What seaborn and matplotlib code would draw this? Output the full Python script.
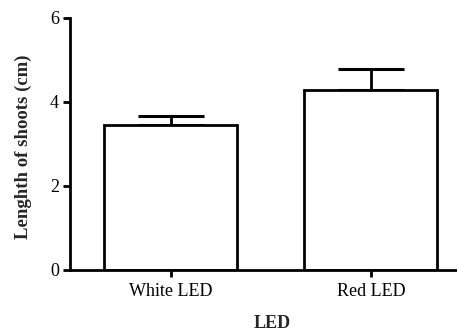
import matplotlib
matplotlib.use("Agg")
import matplotlib.pyplot as plt
import seaborn as sns
import pandas as pd

# Shoot length by light source (mean and SEM)
groups = ["White LED", "Red LED"]
means = [3.45, 4.29]
sems = [0.22, 0.50]

sns.set_style("ticks")
plt.rcParams["font.family"] = ["Liberation Serif", "DejaVu Serif"]

df = pd.DataFrame({"LED": groups, "length": means})

fig = plt.figure(figsize=(4.57, 3.33), dpi=100)
ax = fig.add_axes([70 / 457, 63 / 333, 387 / 457, 252 / 333])

sns.barplot(data=df, x="LED", y="length", color="white", edgecolor="black",
            linewidth=2, width=0.665, errorbar=None, ax=ax, zorder=2)

xs = list(range(len(groups)))
ax.errorbar(xs, means, yerr=[[0] * len(sems), sems], fmt="none",
            ecolor="black", elinewidth=2, capsize=23.8, capthick=2.2, zorder=1)

ax.set_ylim(0, 6)
ax.set_yticks([0, 2, 4, 6])
ax.set_xlim(-0.5025, 1.43)

for side in ("top", "right"):
    ax.spines[side].set_visible(False)
for side in ("left", "bottom"):
    ax.spines[side].set_linewidth(2)
    ax.spines[side].set_color("black")
ax.spines["bottom"].set_capstyle("butt")

ax.tick_params(axis="both", direction="out", length=5, width=2, color="black",
               labelsize=13, labelcolor="black")
ax.tick_params(axis="y", pad=3)
ax.tick_params(axis="x", pad=4)

ax.set_xlabel("LED", fontsize=13, fontweight="bold")
ax.xaxis.set_label_coords(0.522, -0.18)
ax.set_ylabel("Lenghth of shoots (cm)", fontsize=13.5, fontweight="bold")
ax.yaxis.set_label_coords(-0.097, 0.49)

fig.savefig("out.png", dpi=100, facecolor="white")
